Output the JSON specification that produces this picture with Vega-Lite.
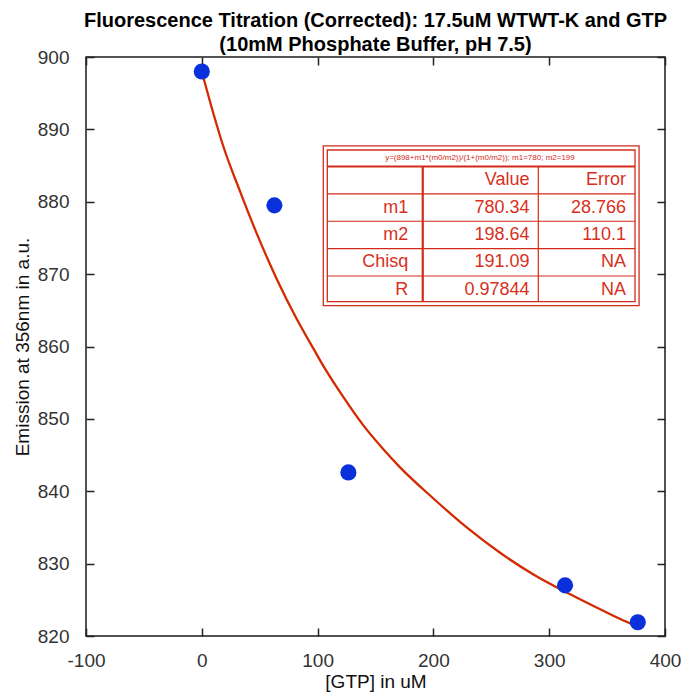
{
  "$schema": "https://vega.github.io/schema/vega-lite/v6.json",
  "width": 579,
  "height": 579,
  "autosize": {"type": "none"},
  "padding": {"left": 86, "top": 57, "right": 17, "bottom": 58},
  "background": "white",
  "config": {
    "font": "Liberation Sans",
    "view": {"stroke": "#1a1a1a", "strokeWidth": 1.5},
    "axis": {
      "domain": false,
      "grid": false,
      "tickSize": -8,
      "tickWidth": 1.5,
      "tickColor": "#222222",
      "labelFont": "Liberation Sans",
      "labelFontSize": 19,
      "labelColor": "#333333",
      "labelOverlap": false,
      "labelFlush": false,
      "labelBound": false,
      "labelExpr": "'' + datum.value",
      "titleFont": "Liberation Sans",
      "titleFontSize": 19,
      "titleFontWeight": "normal",
      "titleColor": "#111111"
    }
  },
  "title": {
    "text": ["Fluorescence Titration (Corrected): 17.5uM WTWT-K and GTP", "(10mM Phosphate Buffer, pH 7.5)"],
    "font": "Liberation Sans",
    "fontSize": 20,
    "fontWeight": "bold",
    "color": "#000000",
    "lineHeight": 24,
    "anchor": "middle",
    "frame": "group",
    "baseline": "bottom",
    "offset": -27
  },
  "datasets": {
    "titration": [
      {"gtp": 0, "emission": 898.0},
      {"gtp": 62.7, "emission": 879.5},
      {"gtp": 126.6, "emission": 842.6},
      {"gtp": 313.7, "emission": 827.0},
      {"gtp": 376.5, "emission": 821.9}
    ],
    "fit": [
      {"gtp": 0, "emission": 898.0},
      {"gtp": 10.0, "emission": 892.2},
      {"gtp": 18.7, "emission": 887.6},
      {"gtp": 33.1, "emission": 881.4},
      {"gtp": 47.5, "emission": 875.6},
      {"gtp": 64.8, "emission": 869.3},
      {"gtp": 82.0, "emission": 863.8},
      {"gtp": 96.4, "emission": 859.7},
      {"gtp": 106.5, "emission": 856.9},
      {"gtp": 122.3, "emission": 853.0},
      {"gtp": 139.5, "emission": 849.1},
      {"gtp": 156.8, "emission": 845.8},
      {"gtp": 171.2, "emission": 843.3},
      {"gtp": 200.0, "emission": 839.0},
      {"gtp": 228.8, "emission": 835.0},
      {"gtp": 257.6, "emission": 831.5},
      {"gtp": 286.4, "emission": 828.5},
      {"gtp": 315.2, "emission": 826.0},
      {"gtp": 344.0, "emission": 823.7},
      {"gtp": 372.7, "emission": 821.6},
      {"gtp": 376.5, "emission": 821.4}
    ],
    "fitTable": [
      {"r": 0, "param": "", "value": "Value", "error": "Error"},
      {"r": 1, "param": "m1", "value": "780.34", "error": "28.766"},
      {"r": 2, "param": "m2", "value": "198.64", "error": "110.1"},
      {"r": 3, "param": "Chisq", "value": "191.09", "error": "NA"},
      {"r": 4, "param": "R", "value": "0.97844", "error": "NA"}
    ],
    "rowLines": [
      {"edge": 0.5},
      {"edge": 1.5},
      {"edge": 2.5},
      {"edge": 3.5}
    ]
  },
  "layer": [
    {
      "data": {"name": "fit"},
      "mark": {"type": "line", "color": "#d42a00", "strokeWidth": 2.3, "interpolate": "monotone"},
      "encoding": {
        "x": {
          "field": "gtp", "type": "quantitative",
          "scale": {"domain": [-100, 400], "nice": false, "zero": false},
          "axis": {"orient": "bottom", "values": [-100, 0, 100, 200, 300, 400], "title": "[GTP] in uM", "labelPadding": 23, "titlePadding": 2}
        },
        "y": {
          "field": "emission", "type": "quantitative",
          "scale": {"domain": [820, 900], "nice": false, "zero": false},
          "axis": {"orient": "left", "values": [820, 830, 840, 850, 860, 870, 880, 890, 900], "title": "Emission at 356nm in a.u.", "labelPadding": 25, "titlePadding": 5}
        }
      }
    },
    {
      "data": {"name": "titration"},
      "mark": {"type": "point", "shape": "circle", "filled": true, "color": "#0a30dc", "opacity": 1, "size": 260},
      "encoding": {
        "x": {
          "field": "gtp", "type": "quantitative",
          "scale": {"domain": [-100, 400], "nice": false, "zero": false},
          "axis": {"orient": "top", "values": [-100, 0, 100, 200, 300, 400], "labels": false, "title": null}
        },
        "y": {
          "field": "emission", "type": "quantitative",
          "scale": {"domain": [820, 900], "nice": false, "zero": false},
          "axis": {"orient": "right", "values": [820, 830, 840, 850, 860, 870, 880, 890, 900], "labels": false, "title": null}
        }
      }
    },
    {
      "data": {"values": [{"box": "outer"}]},
      "mark": {"type": "rect", "fill": "white", "stroke": "#d42a1a", "strokeWidth": 1.3},
      "encoding": {
        "x": {"datum": 104.9, "type": "quantitative", "scale": {"domain": [-100, 400], "nice": false, "zero": false}, "axis": null},
        "x2": {"datum": 377.6},
        "y": {"datum": -1.25, "type": "quantitative", "scale": {"domain": [16.65, -4.5], "nice": false, "zero": false}, "axis": null},
        "y2": {"datum": 4.585}
      }
    },
    {
      "data": {"values": [{"box": "inner"}]},
      "mark": {"type": "rect", "fillOpacity": 0, "stroke": "#d42a1a", "strokeWidth": 1.3},
      "encoding": {
        "x": {"datum": 108.4, "type": "quantitative", "scale": {"domain": [-100, 400], "nice": false, "zero": false}, "axis": null},
        "x2": {"datum": 374.1},
        "y": {"datum": -1.103, "type": "quantitative", "scale": {"domain": [16.65, -4.5], "nice": false, "zero": false}, "axis": null},
        "y2": {"datum": 4.439}
      }
    },
    {
      "data": {"values": [{"line": "header"}]},
      "mark": {"type": "rule", "color": "#d42a1a", "strokeWidth": 2.2},
      "encoding": {
        "x": {"datum": 108.4, "type": "quantitative", "scale": {"domain": [-100, 400], "nice": false, "zero": false}, "axis": null},
        "x2": {"datum": 374.1},
        "y": {"datum": -0.5, "type": "quantitative", "scale": {"domain": [16.65, -4.5], "nice": false, "zero": false}, "axis": null}
      }
    },
    {
      "data": {"name": "rowLines"},
      "mark": {"type": "rule", "color": "#d42a1a", "strokeWidth": 1.2},
      "encoding": {
        "x": {"datum": 108.4, "type": "quantitative", "scale": {"domain": [-100, 400], "nice": false, "zero": false}, "axis": null},
        "x2": {"datum": 374.1},
        "y": {"field": "edge", "type": "quantitative", "scale": {"domain": [16.65, -4.5], "nice": false, "zero": false}, "axis": null}
      }
    },
    {
      "data": {"values": [{"line": "name column"}]},
      "mark": {"type": "rule", "color": "#d42a1a", "strokeWidth": 2.2},
      "encoding": {
        "x": {"datum": 190.8, "type": "quantitative", "scale": {"domain": [-100, 400], "nice": false, "zero": false}, "axis": null},
        "y": {"datum": -0.5, "type": "quantitative", "scale": {"domain": [16.65, -4.5], "nice": false, "zero": false}, "axis": null},
        "y2": {"datum": 4.439}
      }
    },
    {
      "data": {"values": [{"line": "value column"}]},
      "mark": {"type": "rule", "color": "#d42a1a", "strokeWidth": 1.2},
      "encoding": {
        "x": {"datum": 290.6, "type": "quantitative", "scale": {"domain": [-100, 400], "nice": false, "zero": false}, "axis": null},
        "y": {"datum": -0.5, "type": "quantitative", "scale": {"domain": [16.65, -4.5], "nice": false, "zero": false}, "axis": null},
        "y2": {"datum": 4.439}
      }
    },
    {
      "data": {"values": [{"formula": "y=(898+m1*(m0/m2))/(1+(m0/m2)); m1=780; m2=199"}]},
      "mark": {"type": "text", "color": "#d42a1a", "fontSize": 8, "font": "Liberation Sans", "align": "center", "baseline": "middle"},
      "encoding": {
        "x": {"datum": 240.2, "type": "quantitative", "scale": {"domain": [-100, 400], "nice": false, "zero": false}, "axis": null},
        "y": {"datum": -0.81, "type": "quantitative", "scale": {"domain": [16.65, -4.5], "nice": false, "zero": false}, "axis": null},
        "text": {"field": "formula"}
      }
    },
    {
      "data": {"name": "fitTable"},
      "mark": {"type": "text", "color": "#d8301c", "fontSize": 18, "font": "Liberation Sans", "align": "right", "baseline": "middle"},
      "encoding": {
        "x": {"datum": 178.3, "type": "quantitative", "scale": {"domain": [-100, 400], "nice": false, "zero": false}, "axis": null},
        "y": {"field": "r", "type": "quantitative", "scale": {"domain": [16.65, -4.5], "nice": false, "zero": false}, "axis": null},
        "text": {"field": "param"}
      }
    },
    {
      "data": {"name": "fitTable"},
      "mark": {"type": "text", "color": "#d8301c", "fontSize": 18, "font": "Liberation Sans", "align": "right", "baseline": "middle"},
      "encoding": {
        "x": {"datum": 283.0, "type": "quantitative", "scale": {"domain": [-100, 400], "nice": false, "zero": false}, "axis": null},
        "y": {"field": "r", "type": "quantitative", "scale": {"domain": [16.65, -4.5], "nice": false, "zero": false}, "axis": null},
        "text": {"field": "value"}
      }
    },
    {
      "data": {"name": "fitTable"},
      "mark": {"type": "text", "color": "#d8301c", "fontSize": 18, "font": "Liberation Sans", "align": "right", "baseline": "middle"},
      "encoding": {
        "x": {"datum": 366.3, "type": "quantitative", "scale": {"domain": [-100, 400], "nice": false, "zero": false}, "axis": null},
        "y": {"field": "r", "type": "quantitative", "scale": {"domain": [16.65, -4.5], "nice": false, "zero": false}, "axis": null},
        "text": {"field": "error"}
      }
    }
  ],
  "resolve": {
    "scale": {"y": "independent"},
    "axis": {"x": "independent", "y": "independent"}
  }
}
